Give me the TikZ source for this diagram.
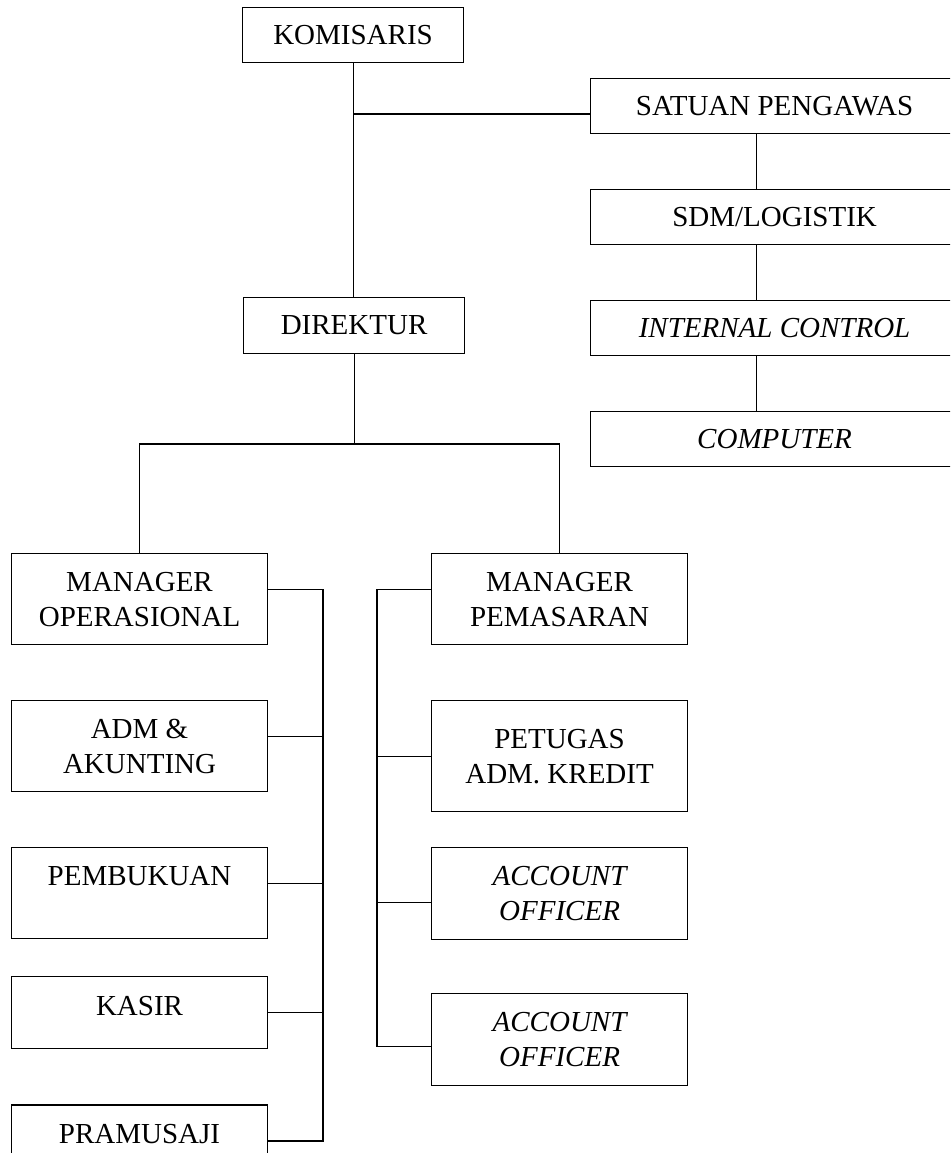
\documentclass[tikz,border=0pt]{standalone}
\usepackage{fontspec}
\setmainfont{Liberation Serif}
\usetikzlibrary{positioning}

\begin{document}
\begin{tikzpicture}[
    x=1pt, y=-1pt,
    node distance=55pt,
    box/.style={rectangle, draw, line width=1.1pt, inner sep=0pt, align=center, font=\fontsize{29}{35}\selectfont},
    ital/.style={font=\fontsize{29}{35}\selectfont\itshape},
    topbox/.style={box, minimum width=221pt, minimum height=55pt},
    sidebox/.style={box, minimum width=368pt, minimum height=55pt},
    unitbox/.style={box, minimum width=256pt, minimum height=91pt},
    lowbox/.style={unitbox, minimum height=72pt, text height=20pt, text depth=14pt},
    line/.style={line width=1.1pt}
]
\useasboundingbox (0,0) rectangle (950,1153);
\clip (0,0) rectangle (950,1153);

\node[topbox, anchor=north west] (kom) at (242,7) {KOMISARIS};
\node[topbox, anchor=north west, minimum height=56pt] (dir) at (243,297) {DIREKTUR};

\node[sidebox, anchor=north west] (sp) at (590,78) {SATUAN PENGAWAS};
\node[sidebox, below=of sp] (sdm) {SDM/LOGISTIK};
\node[sidebox, ital, below=of sdm] (ic) {INTERNAL CONTROL};
\node[sidebox, ital, below=of ic] (comp) {COMPUTER};

\node[unitbox, anchor=north west] (mo) at (11,553) {MANAGER\\OPERASIONAL};
\node[unitbox, below=of mo] (adm) {ADM \&\\AKUNTING};
\node[unitbox, below=of adm] (pem) {PEMBUKUAN\\\mbox{}};
\node[lowbox, below=37pt of pem] (kas) {KASIR};
\node[lowbox, below=of kas] (pra) {PRAMUSAJI};

\node[unitbox, anchor=north west] (mp) at (431,553) {MANAGER\\PEMASARAN};
\node[unitbox, minimum height=111pt, below=of mp] (pet) {PETUGAS\\ADM. KREDIT};
\node[unitbox, ital, minimum height=92pt, below=35pt of pet] (ao1) {ACCOUNT\\OFFICER};
\node[unitbox, ital, minimum height=92pt, below=53pt of ao1] (ao2) {ACCOUNT\\OFFICER};

\coordinate (split) at (dir.south |- 0,444);
\coordinate (lbus) at (323,700);
\coordinate (rbus) at (377,800);

\draw[line] (kom.south) -- (kom.south |- dir.north);
\draw[line] ([yshift=-8pt]sp.west) -| (kom.south);
\foreach \a/\b in {sp/sdm, sdm/ic, ic/comp}
    \draw[line] ([xshift=-18pt]\a.south) -- ([xshift=-18pt]\b.north);

\draw[line] (dir.south) -- (split);
\draw[line] (mo.north) |- (split) -| (mp.north);

\draw[line] ([yshift=9.5pt]mo.east) -| (lbus) |- (pra.east);
\foreach \n/\s in {adm/9.5, pem/9.5, kas/0}
    \draw[line] ([yshift=\s pt]\n.east) -- ++(56,0);

\draw[line] ([yshift=9.5pt]mp.west) -| (rbus) |- ([yshift=-6.5pt]ao2.west);
\foreach \n/\s in {pet/0, ao1/-9}
    \draw[line] ([yshift=\s pt]\n.west) -- ++(-54,0);
\end{tikzpicture}
\end{document}
